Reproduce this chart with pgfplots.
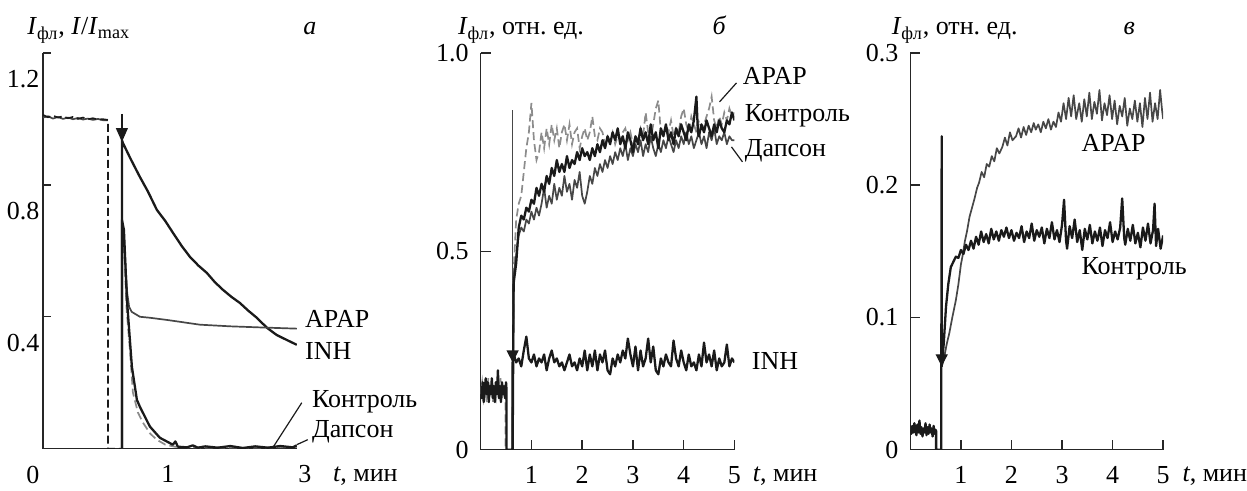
\documentclass[border=0pt]{standalone}
\usepackage{fontspec}
\setmainfont{Liberation Serif}
\usepackage{pgfplots}
\pgfplotsset{compat=1.18}
\usetikzlibrary{arrows.meta}

\definecolor{darkline}{HTML}{1A1A1A}
\definecolor{midline}{HTML}{474747}
\definecolor{lightline}{HTML}{8C8C8C}

\tikzset{every node/.style={font=\fontsize{13}{15}\selectfont}}
\pgfplotsset{
  panel/.style={
    scale only axis,
    anchor=south west,
    axis lines*=left,
    axis line style={line width=0.7pt, black!85},
    tick style={line width=0.7pt, black!85},
    tick align=inside,
    major tick length=5pt,
    xmin=0, ymin=0,
    /pgf/number format/assume math mode=true,
    xticklabel style={yshift=-5pt},
    yticklabel style={xshift=-2.5pt},
  },
  blk/.style={darkline, line width=1.15pt, line join=round},
  mid/.style={midline, line width=0.85pt, line join=round},
  dsh/.style={lightline, line width=0.85pt, dash pattern=on 4pt off 2pt},
}

\begin{document}
\begin{tikzpicture}
\begin{scope}[x=0.5pt,y=-0.5pt]
  \path[use as bounding box] (0,0) rectangle (1247,486);
\end{scope}

% ---------- panel a ----------
\begin{axis}[panel, at={(21.5pt,-224.5pt)}, width=127pt, height=198pt,
  xmax=2.032, ymax=1.2,
  xtick={1,2.032}, xticklabels={1,\hspace*{8pt}3}, x tick style={draw=none},
  ytick={0,0.4,0.8,1.2}, yticklabels={0,0.4,0.8,1.2},
  yticklabel style={yshift=-13pt, xshift=4.2pt},
  major tick length=4pt]
% plateau before the break
\addplot[mid] coordinates {(0,1.004)(0.04,1.008)(0.08,1.001)(0.12,1.006)(0.16,1.0)
  (0.2,1.004)(0.24,0.999)(0.28,1.003)(0.32,0.998)(0.36,1.001)(0.40,0.997)(0.44,1.0)(0.48,0.996)(0.52,0.996)};
\addplot[darkline, line width=0.85pt, dash pattern=on 4pt off 2pt] coordinates {(0,1.012)(0.04,1.005)(0.08,1.010)
  (0.12,1.004)(0.16,1.008)(0.2,1.002)(0.24,1.006)(0.28,1.0)(0.32,1.004)(0.36,0.999)(0.40,1.002)
  (0.44,0.998)(0.48,0.999)(0.52,0.997)(0.52,0)(0.632,0)(0.632,0.69)};
% INH
\addplot[blk] coordinates {(0.632,0)(0.632,0.936)(0.64,0.927)(0.70,0.88)(0.776,0.824)(0.84,0.78)
  (0.912,0.724)(0.98,0.69)(1.04,0.655)(1.11,0.615)(1.176,0.582)(1.245,0.555)(1.312,0.533)
  (1.376,0.505)(1.44,0.482)(1.51,0.46)(1.576,0.442)(1.645,0.418)(1.712,0.397)(1.792,0.367)
  (1.87,0.345)(1.95,0.33)(2.032,0.315)};
% APAP
\addplot[mid] coordinates {(0.632,0)(0.632,0.694)(0.645,0.66)(0.66,0.56)(0.675,0.47)(0.69,0.43)
  (0.71,0.415)(0.776,0.40)(0.856,0.397)(1.0,0.39)(1.256,0.376)(1.5,0.371)(1.792,0.367)(2.032,0.364)};
% Dapsone
\addplot[dsh] coordinates {(0.632,0.69)(0.65,0.6)(0.67,0.42)(0.696,0.30)(0.72,0.17)(0.76,0.11)
  (0.8,0.079)(0.86,0.045)(0.912,0.027)(0.98,0.012)(1.056,0.006)(1.2,0.004)(1.6,0.003)(2.032,0.005)};
% control
\addplot[blk] coordinates {(0.632,0)(0.632,0.694)(0.648,0.664)(0.672,0.452)(0.712,0.248)(0.752,0.148)
  (0.776,0.127)(0.856,0.067)(0.936,0.033)(1.04,0.012)(1.06,0.022)(1.08,0.006)(1.152,0.004)
  (1.2,0.01)(1.24,0.003)(1.3,0.007)(1.4,0.003)(1.5,0.008)(1.6,0.002)(1.7,0.007)(1.8,0.003)
  (1.9,0.008)(2.0,0.004)(2.032,0.01)};
\draw[darkline, line width=0.6pt, -{Triangle[length=7pt,width=6pt]}]
  (axis cs:0.632,1.015) -- (axis cs:0.632,0.93);
\end{axis}

% ---------- panel b ----------
\begin{axis}[panel, at={(240.5pt,-225pt)}, width=127pt, height=198.5pt,
  xmax=5, ymax=1,
  xtick={1,2,3,4,5},
  ytick={0,0.5,1}, yticklabels={0,0.5,1.0}]
% injection artefact
\addplot[midline, line width=0.6pt] coordinates {(0.62,0)(0.62,0.856)};
% APAP
\addplot[dsh] coordinates {(0,.14)(.03,.17)(.06,.13)(.09,.16)(.12,.12)(.15,.18)(.18,.14)(.21,.16)
  (.24,.12)(.27,.15)(.30,.13)(.33,.17)(.36,.14)(.39,.18)(.42,.13)(.45,.16)(.48,.14)(.49,.15)(.49,0)(.63,0)
  (0.65,.45)(0.70,.58)(0.75,.62)(0.80,.64)(0.85,.70)(0.90,.76)(0.95,.80)(1.00,.874)(1.05,.78)(1.10,.73)
  (1.15,.75)(1.20,.80)(1.25,.76)(1.30,.81)(1.35,.77)(1.40,.82)(1.45,.78)(1.50,.81)(1.55,.76)(1.60,.80)
  (1.65,.82)(1.70,.78)(1.75,.82)(1.80,.77)(1.85,.80)(1.90,.81)(1.95,.76)(2.00,.79)(2.05,.81)(2.10,.78)
  (2.15,.80)(2.20,.84)(2.25,.79)(2.30,.78)(2.35,.81)(2.40,.80)(2.45,.77)(2.50,.79)(2.55,.78)(2.60,.80)
  (2.65,.77)(2.70,.79)(2.75,.78)(2.80,.80)(2.85,.81)(2.90,.78)(2.95,.80)(3.00,.77)(3.05,.79)(3.10,.78)
  (3.15,.81)(3.20,.79)(3.25,.85)(3.30,.80)(3.35,.78)(3.40,.82)(3.45,.86)(3.50,.88)(3.55,.80)(3.60,.79)
  (3.65,.82)(3.70,.80)(3.75,.83)(3.80,.79)(3.85,.81)(3.90,.80)(3.95,.84)(4.00,.86)(4.05,.82)(4.10,.80)
  (4.15,.84)(4.20,.82)(4.25,.80)(4.30,.83)(4.35,.81)(4.40,.82)(4.45,.84)(4.50,.86)(4.55,.89)(4.60,.83)
  (4.65,.81)(4.70,.84)(4.75,.82)(4.80,.85)(4.85,.83)(4.90,.86)(4.95,.84)(5.00,.85)};
% Dapsone
\addplot[mid] coordinates {(0.63,0)(0.65,.44)(0.70,.49)(0.75,.54)(0.80,.56)(0.85,.55)(0.90,.58)(0.95,.57)
  (1.00,.60)(1.05,.58)(1.10,.61)(1.15,.59)(1.20,.62)(1.25,.66)(1.30,.61)(1.35,.64)(1.40,.62)(1.45,.67)
  (1.50,.63)(1.55,.66)(1.60,.64)(1.65,.69)(1.70,.65)(1.75,.67)(1.80,.63)(1.85,.68)(1.90,.66)(1.95,.70)
  (2.00,.64)(2.05,.62)(2.10,.65)(2.15,.69)(2.20,.67)(2.25,.71)(2.30,.69)(2.35,.72)(2.40,.70)(2.45,.73)
  (2.50,.71)(2.55,.74)(2.60,.72)(2.65,.75)(2.70,.73)(2.75,.76)(2.80,.74)(2.85,.77)(2.90,.73)(2.95,.76)
  (3.00,.74)(3.05,.77)(3.10,.75)(3.15,.78)(3.20,.74)(3.25,.77)(3.30,.75)(3.35,.79)(3.40,.76)(3.45,.74)
  (3.50,.77)(3.55,.75)(3.60,.78)(3.65,.76)(3.70,.79)(3.75,.77)(3.80,.75)(3.85,.78)(3.90,.76)(3.95,.79)
  (4.00,.77)(4.05,.80)(4.10,.77)(4.15,.79)(4.20,.76)(4.25,.78)(4.30,.80)(4.35,.77)(4.40,.79)(4.45,.76)
  (4.50,.80)(4.55,.78)(4.60,.81)(4.65,.77)(4.70,.79)(4.75,.78)(4.80,.80)(4.85,.77)(4.90,.79)(4.95,.78)(5.00,.78)};
% control
\addplot[blk] coordinates {(0.63,0)(0.65,.42)(0.70,.47)(0.75,.56)(0.80,.59)(0.85,.58)(0.90,.61)(0.95,.60)
  (1.00,.63)(1.05,.62)(1.10,.66)(1.15,.64)(1.20,.67)(1.25,.65)(1.30,.69)(1.35,.67)(1.40,.71)(1.45,.69)
  (1.50,.73)(1.55,.70)(1.60,.72)(1.65,.70)(1.70,.74)(1.75,.71)(1.80,.73)(1.85,.72)(1.90,.75)(1.95,.73)
  (2.00,.76)(2.05,.74)(2.10,.75)(2.15,.73)(2.20,.76)(2.25,.74)(2.30,.77)(2.35,.75)(2.40,.78)(2.45,.76)
  (2.50,.79)(2.55,.77)(2.60,.80)(2.65,.78)(2.70,.81)(2.75,.77)(2.80,.79)(2.85,.76)(2.90,.80)(2.95,.78)
  (3.00,.75)(3.05,.79)(3.10,.77)(3.15,.81)(3.20,.78)(3.25,.80)(3.30,.77)(3.35,.82)(3.40,.78)(3.45,.80)
  (3.50,.76)(3.55,.81)(3.60,.79)(3.65,.82)(3.70,.78)(3.75,.80)(3.80,.77)(3.85,.81)(3.90,.79)(3.95,.82)
  (4.00,.80)(4.05,.78)(4.10,.82)(4.15,.80)(4.20,.83)(4.25,.89)(4.28,.80)(4.30,.79)(4.35,.82)(4.40,.80)
  (4.45,.83)(4.50,.81)(4.55,.79)(4.60,.82)(4.65,.80)(4.70,.83)(4.75,.81)(4.80,.80)(4.85,.83)(4.90,.82)
  (4.95,.85)(5.00,.83)};
% INH
\addplot[blk] coordinates {(0,.16)(.02,.13)(.04,.17)(.06,.12)(.08,.15)(.10,.18)(.12,.14)(.14,.17)(.16,.12)
  (.18,.16)(.20,.14)(.22,.18)(.24,.13)(.26,.16)(.28,.12)(.30,.17)(.32,.14)(.34,.20)(.36,.13)(.38,.16)(.40,.12)
  (.42,.17)(.44,.14)(.46,.16)(.48,.13)(.50,.17)(.51,.15)(.51,0)(.63,0)(.63,.22)
  (0.65,.24)(0.70,.22)(0.75,.23)(0.80,.21)(0.85,.25)(0.90,.285)(0.95,.23)(1.00,.22)(1.05,.24)(1.10,.21)
  (1.15,.23)(1.20,.22)(1.25,.24)(1.30,.20)(1.35,.23)(1.40,.25)(1.45,.22)(1.50,.23)(1.55,.21)(1.60,.22)
  (1.65,.20)(1.70,.22)(1.75,.24)(1.80,.21)(1.85,.22)(1.90,.20)(1.95,.23)(2.00,.21)(2.05,.25)(2.10,.20)
  (2.15,.24)(2.20,.21)(2.25,.25)(2.30,.20)(2.35,.24)(2.40,.22)(2.45,.25)(2.50,.20)(2.55,.19)(2.60,.23)
  (2.65,.21)(2.70,.24)(2.75,.22)(2.80,.25)(2.85,.23)(2.90,.28)(2.95,.24)(3.00,.21)(3.05,.26)(3.10,.20)
  (3.15,.25)(3.20,.21)(3.25,.23)(3.30,.28)(3.35,.22)(3.40,.26)(3.45,.20)(3.50,.19)(3.55,.23)(3.60,.21)
  (3.65,.24)(3.70,.22)(3.75,.21)(3.80,.275)(3.85,.23)(3.90,.21)(3.95,.25)(4.00,.22)(4.05,.20)(4.10,.24)
  (4.15,.21)(4.20,.22)(4.25,.20)(4.30,.24)(4.35,.21)(4.40,.27)(4.45,.22)(4.50,.24)(4.55,.21)(4.60,.25)
  (4.65,.20)(4.70,.23)(4.75,.21)(4.80,.22)(4.85,.265)(4.90,.21)(4.95,.23)(5.00,.22)};
\draw[darkline, line width=0.6pt, -{Triangle[length=6pt,width=6pt]}]
  (axis cs:0.63,0.27) -- (axis cs:0.63,0.22);
\end{axis}

% ---------- panel c ----------
\begin{axis}[panel, at={(455.5pt,-225pt)}, width=126.5pt, height=198.5pt,
  xmax=5, ymax=0.3,
  xtick={1,2,3,4,5},
  ytick={0,0.1,0.2,0.3}, yticklabels={0,0.1,0.2,0.3}]
% APAP
\addplot[mid] coordinates {(0.62,0.063)(0.67,.07)(0.72,.08)(0.77,.088)(0.83,.10)(0.90,.113)(0.95,.125)
  (1.0,.14)(1.03,.146)(1.08,.158)(1.12,.165)(1.17,.176)(1.22,.183)(1.27,.19)(1.32,.198)(1.36,.202)
  (1.41,.21)(1.46,.206)(1.51,.216)(1.56,.214)(1.61,.222)(1.66,.218)(1.71,.228)(1.76,.224)(1.82,.229)
  (1.87,.236)(1.92,.23)(1.97,.24)(2.02,.234)(2.09,.237)(2.14,.243)(2.19,.236)(2.24,.244)(2.29,.238)
  (2.34,.245)(2.39,.24)(2.44,.247)(2.48,.242)(2.53,.246)(2.58,.240)(2.63,.248)(2.68,.243)(2.73,.25)
  (2.78,.242)(2.83,.248)(2.88,.244)(2.93,.255)(2.98,.248)(3.03,.262)(3.08,.25)(3.13,.266)(3.18,.252)
  (3.23,.268)(3.28,.25)(3.34,.262)(3.39,.248)(3.44,.265)(3.49,.252)(3.54,.27)(3.59,.25)(3.64,.263)
  (3.69,.254)(3.74,.272)(3.79,.249)(3.84,.262)(3.89,.253)(3.94,.268)(3.99,.25)(4.04,.264)(4.09,.246)
  (4.14,.26)(4.19,.252)(4.24,.266)(4.29,.245)(4.34,.258)(4.39,.25)(4.44,.264)(4.49,.248)(4.54,.262)
  (4.59,.244)(4.64,.266)(4.69,.25)(4.74,.27)(4.79,.248)(4.84,.262)(4.89,.25)(4.94,.272)(4.98,.256)(5.0,.25)};
% control
\addplot[blk] coordinates {(0,.015)(.02,.012)(.04,.018)(.06,.013)(.08,.02)(.10,.014)(.12,.011)(.14,.019)
  (.16,.013)(.18,.022)(.20,.012)(.22,.017)(.24,.01)(.26,.016)(.28,.013)(.30,.02)(.32,.011)(.34,.017)
  (.36,.012)(.38,.019)(.40,.013)(.42,.016)(.44,.01)(.46,.018)(.48,.012)(.50,.015)(.51,.014)(.51,0)
  (.61,0)(.62,.237)(.62,.063)
  (.66,.08)(.705,.108)(.75,.125)(.80,.138)(.85,.142)(.90,.146)(.95,.145)(1.0,.151)(1.05,.148)(1.1,.155)
  (1.15,.151)(1.20,.158)(1.25,.152)(1.30,.161)(1.35,.155)(1.40,.165)(1.45,.157)(1.50,.163)(1.55,.156)
  (1.60,.167)(1.65,.159)(1.70,.165)(1.75,.158)(1.80,.166)(1.85,.161)(1.90,.168)(1.95,.160)(2.00,.166)
  (2.05,.158)(2.10,.164)(2.15,.160)(2.20,.169)(2.25,.157)(2.30,.165)(2.35,.160)(2.40,.171)(2.45,.158)
  (2.50,.166)(2.55,.161)(2.60,.168)(2.65,.156)(2.70,.167)(2.75,.160)(2.80,.172)(2.85,.159)(2.90,.166)
  (2.95,.157)(3.00,.170)(3.04,.189)(3.08,.158)(3.10,.152)(3.15,.169)(3.20,.160)(3.25,.174)(3.30,.157)
  (3.35,.166)(3.40,.151)(3.45,.167)(3.50,.159)(3.55,.170)(3.60,.156)(3.65,.165)(3.70,.158)(3.75,.168)
  (3.80,.154)(3.85,.166)(3.90,.160)(3.95,.172)(4.00,.157)(4.05,.165)(4.10,.159)(4.15,.168)(4.19,.190)
  (4.23,.160)(4.25,.155)(4.30,.167)(4.35,.158)(4.40,.170)(4.45,.156)(4.50,.164)(4.55,.153)(4.60,.168)
  (4.65,.158)(4.70,.171)(4.75,.156)(4.80,.166)(4.83,.186)(4.86,.154)(4.90,.167)(4.95,.152)(5.00,.162)};
\draw[darkline, line width=0.6pt, -{Triangle[length=6pt,width=6pt]}]
  (axis cs:0.62,0.09) -- (axis cs:0.62,0.063);
\end{axis}

% ---------- text ----------
\begin{scope}[x=0.5pt,y=-0.5pt, every node/.append style={inner sep=0pt}]
  % panel a
  \node[anchor=base west] at (27,35) {\textit{I}\textsubscript{фл}, \textit{I}/\textit{I}\textsubscript{max}};
  \node[anchor=base] at (310,35) {\textit{а}};
  \node[anchor=base west] at (305,328) {APAP};
  \node[anchor=base west] at (305,360) {INH};
  \node[anchor=base west] at (312,408) {Контроль};
  \node[anchor=base west] at (312,438) {Дапсон};
  \draw[darkline, line width=0.6pt] (273,448) -- (302,403);
  \draw[darkline, line width=0.6pt] (297,445) -- (308,440);
  \node[anchor=base west] at (333,482) {\textit{t}, мин};
  % panel b
  \node[anchor=base west] at (458,35) {\textit{I}\textsubscript{фл}, отн.~ед.};
  \node[anchor=base] at (720,35) {\textit{б}};
  \node[anchor=base west] at (743,85) {APAP};
  \node[anchor=base west] at (745,122) {Контроль};
  \node[anchor=base west] at (745,157) {Дапсон};
  \node[anchor=base west] at (752,370) {INH};
  \draw[darkline, line width=0.6pt] (720,102) -- (737,83);
  \draw[darkline, line width=0.6pt] (732,147) -- (743,162);
  \node[anchor=base west] at (753,482) {\textit{t}, мин};
  % panel c
  \node[anchor=base west] at (892,35) {\textit{I}\textsubscript{фл}, отн.~ед.};
  \node[anchor=base] at (1130,35) {\textit{в}};
  \node[anchor=base west] at (1082,152) {APAP};
  \node[anchor=base west] at (1082,275) {Контроль};
  \node[anchor=base west] at (1183,482) {\textit{t}, мин};
\end{scope}
\end{tikzpicture}
\end{document}
